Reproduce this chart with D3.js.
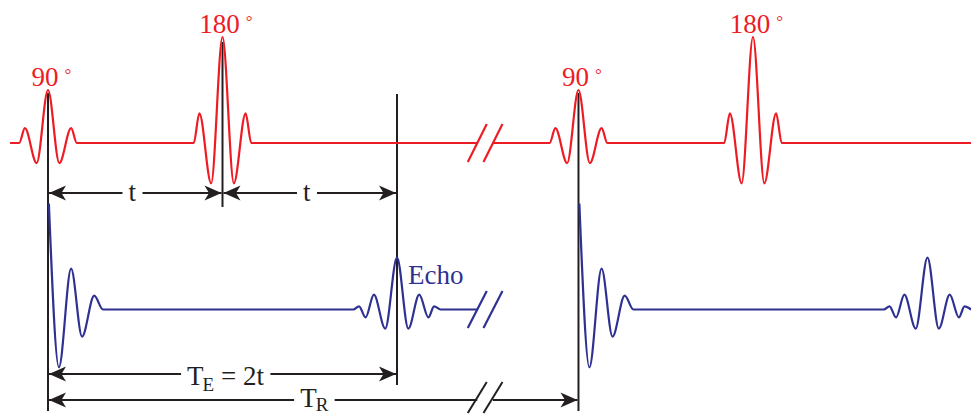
<!DOCTYPE html>
<html lang="en">
<head><meta charset="utf-8"/>
<style>
body { margin: 0; background: #fff; }
.rf { fill: none; stroke: #ed1c24; stroke-width: 2.2px; }
.sig { fill: none; stroke: #2e3192; stroke-width: 2.2px; }
.mark { fill: none; stroke: #231f20; stroke-width: 2px; }
text { font-family: "Liberation Serif", "DejaVu Serif", serif; font-size: 27px; }
</style>
</head>
<body>
<svg id="chart" width="971" height="414"></svg>

<script src="https://cdn.jsdelivr.net/npm/d3@7/dist/d3.min.js"></script>
<script>

// timing in ms, t = 20 ms
var tau = 20, TR = 60.8;
var breakCuts = [49.2, 51.0];        // the "//" cut
var rowStart = -4.35, rowEnd = 106;

// RF pulses
var rfTimes = [0, tau, TR, TR + tau];
var rfFlips = [90, 180, 90, 180];
var rfOffsets = [-3.3, -2.65, -1.3, 0, 1.3, 2.65, 3.3];
var rfAmps    = [0, 0.28, -0.38, 1, -0.38, 0.28, 0];   // for 90 deg, scaled by flip/90

// FID after each 90
var fidTimes = [0, TR];
var fidOffsets = [0.1, 1.25, 2.65, 3.9, 5.3, 6.3];
var fidAmps    = [2, -1.09, 0.77, -0.51, 0.26, 0];

// spin echoes
var echoTimes = [2 * tau, TR + 2 * tau];
var echoOffsets = [-5.0, -4.35, -3.6, -2.65, -1.35, 0, 1.3, 2.55, 3.6, 4.25, 5.0];
var echoAmps    = [0, 0.06, -0.15, 0.28, -0.36, 0.98, -0.36, 0.28, -0.15, 0.06, 0];

// timing marks
var markTimes = [0, tau, 2 * tau, TR];
var spans = [
	{from: 0, to: tau, label: "t", row: "t"},
	{from: tau, to: 2 * tau, label: "t", row: "t"},
	{from: 0, to: 2 * tau, label: "TE", row: "te"},
	{from: 0, to: TR, label: "TR", row: "tr"}
];

var svg = d3.select("#chart");
var x = d3.scaleLinear().domain([0, tau]).range([48, 222.5]);
var yRF = d3.scaleLinear().domain([0, 1]).range([143, 90]);
var yEcho = d3.scaleLinear().domain([0, 1]).range([309.5, 256.5]);
var rowY = {t: 193, te: 374, tr: 400};

var defs = svg.append("defs");
defs.append("marker")
	.attr("id", "arr")
	.attr("viewBox", "-20 -10 22 20")
	.attr("refX", 0).attr("refY", 0)
	.attr("markerWidth", 22).attr("markerHeight", 20)
	.attr("markerUnits", "userSpaceOnUse")
	.attr("orient", "auto-start-reverse")
	.append("path")
	.attr("d", "M0,0 L-17,-7.5 L-12.5,0 L-17,7.5 Z")
	.attr("fill", "#231f20");

function shape(center, offsets, amps, k){
	return offsets.map((o, j) => [center + o, amps[j] * k]);
}

// RF row
function rfSegment(t0, t1){
	var pts = [[t0, 0]];
	rfTimes.forEach(function(p, i){
		if(p > t0 && p < t1) pts = pts.concat(shape(p, rfOffsets, rfAmps, rfFlips[i] / 90));
	});
	pts.push([t1, 0]);
	return pts;
}
function echoSegment(t0, t1){
	var pts = [];
	fidTimes.forEach(function(p){
		if(p >= t0 && p < t1) pts = pts.concat(shape(p, fidOffsets, fidAmps, 1));
	});
	echoTimes.forEach(function(p){
		if(p > t0 && p < t1) pts = pts.concat(shape(p, echoOffsets, echoAmps, 1));
	});
	if(pts[pts.length - 1][0] < t1 - 1) pts.push([t1, 0]);
	return pts;
}

var lineRF = d3.line().x(d => x(d[0])).y(d => yRF(d[1])).curve(d3.curveMonotoneX);
var lineEcho = d3.line().x(d => x(d[0])).y(d => yEcho(d[1])).curve(d3.curveMonotoneX);

// timing marks (drawn first, under the waves)
var markTop = [yRF(1) + 3, yRF(2) + 5, 94, yRF(1) + 3];
var markBottom = [rowY.tr + 11, rowY.t + 14, rowY.te + 11, rowY.tr + 11];
markTimes.forEach(function(t, i){
	svg.append("line").attr("class", "mark")
		.attr("x1", x(t)).attr("x2", x(t))
		.attr("y1", markTop[i]).attr("y2", markBottom[i]);
});

svg.append("path").attr("class", "rf").attr("d", lineRF(rfSegment(rowStart, breakCuts[0])));
svg.append("path").attr("class", "rf").attr("d", lineRF(rfSegment(breakCuts[1], rowEnd)));
svg.append("path").attr("class", "sig").attr("d", lineEcho(echoSegment(0, breakCuts[0])));
svg.append("path").attr("class", "sig").attr("d", lineEcho(echoSegment(TR, rowEnd)));

// break marks
function slashes(cls, cy, h){
	breakCuts.forEach(function(c){
		svg.append("line").attr("class", cls)
			.attr("x1", x(c) - 9.5).attr("y1", cy + h)
			.attr("x2", x(c) + 9.5).attr("y2", cy - h);
	});
}
slashes("rf", yRF(0), 19);
slashes("sig", yEcho(0), 18.5);
slashes("mark", rowY.tr - 2.5, 15.5);

// flip angle labels
rfTimes.forEach(function(p, i){
	var k = rfFlips[i] / 90;
	var tx = svg.append("text")
		.attr("x", x(p) - 3).attr("y", yRF(k) - 4)
		.attr("text-anchor", "middle")
		.attr("fill", "#ed1c24")
		.text(rfFlips[i]);
	var b = tx.node().getBBox();
	svg.append("text")
		.attr("x", b.x + b.width + 6).attr("y", yRF(k) - 10)
		.attr("fill", "#ed1c24")
		.style("font-size", "17px")
		.text("°");
});

// echo label
svg.append("text")
	.attr("x", x(echoTimes[0]) + 11).attr("y", yEcho(0.48))
	.attr("fill", "#2e3192")
	.text("Echo");

// span arrows
spans.forEach(function(s){
	var y = rowY[s.row], mid = (x(s.from) + x(s.to)) / 2;
	var tx = svg.append("text")
		.attr("x", mid - 3).attr("y", y)
		.attr("dy", "0.3em")
		.attr("text-anchor", "middle")
		.attr("fill", "#231f20");
	if(s.label == "TE"){
		tx.attr("x", mid + 3).attr("y", y + 11).attr("dy", null);
		tx.append("tspan").text("T");
		tx.append("tspan").attr("dx", -1).attr("dy", 6).style("font-size", "19px").text("E");
		tx.append("tspan").attr("dy", -6).text(" = 2t");
	} else if(s.label == "TR"){
		tx.attr("x", mid + 1).attr("y", y + 7).attr("dy", null);
		tx.append("tspan").text("T");
		tx.append("tspan").attr("dx", -1).attr("dy", 4).style("font-size", "19px").text("R");
	} else {
		tx.text(s.label);
	}
	var b = tx.node().getBBox();
	var gapL = b.x - 6, gapR = b.x + b.width + 6;
	if(s.row == "tr"){
		// cut for the "//"
		svg.append("line").attr("class", "mark").attr("marker-start", "url(#arr)")
			.attr("x1", x(s.from) + 1).attr("x2", gapL).attr("y1", y).attr("y2", y);
		svg.append("line").attr("class", "mark")
			.attr("x1", gapR).attr("x2", x(breakCuts[0])).attr("y1", y).attr("y2", y);
		svg.append("line").attr("class", "mark").attr("marker-end", "url(#arr)")
			.attr("x1", x(breakCuts[1])).attr("x2", x(s.to) - 1).attr("y1", y).attr("y2", y);
	} else {
		svg.append("line").attr("class", "mark").attr("marker-start", "url(#arr)")
			.attr("x1", x(s.from) + 1).attr("x2", gapL).attr("y1", y).attr("y2", y);
		svg.append("line").attr("class", "mark").attr("marker-end", "url(#arr)")
			.attr("x1", gapR).attr("x2", x(s.to) - 1).attr("y1", y).attr("y2", y);
	}
});

</script>
</body>
</html>
